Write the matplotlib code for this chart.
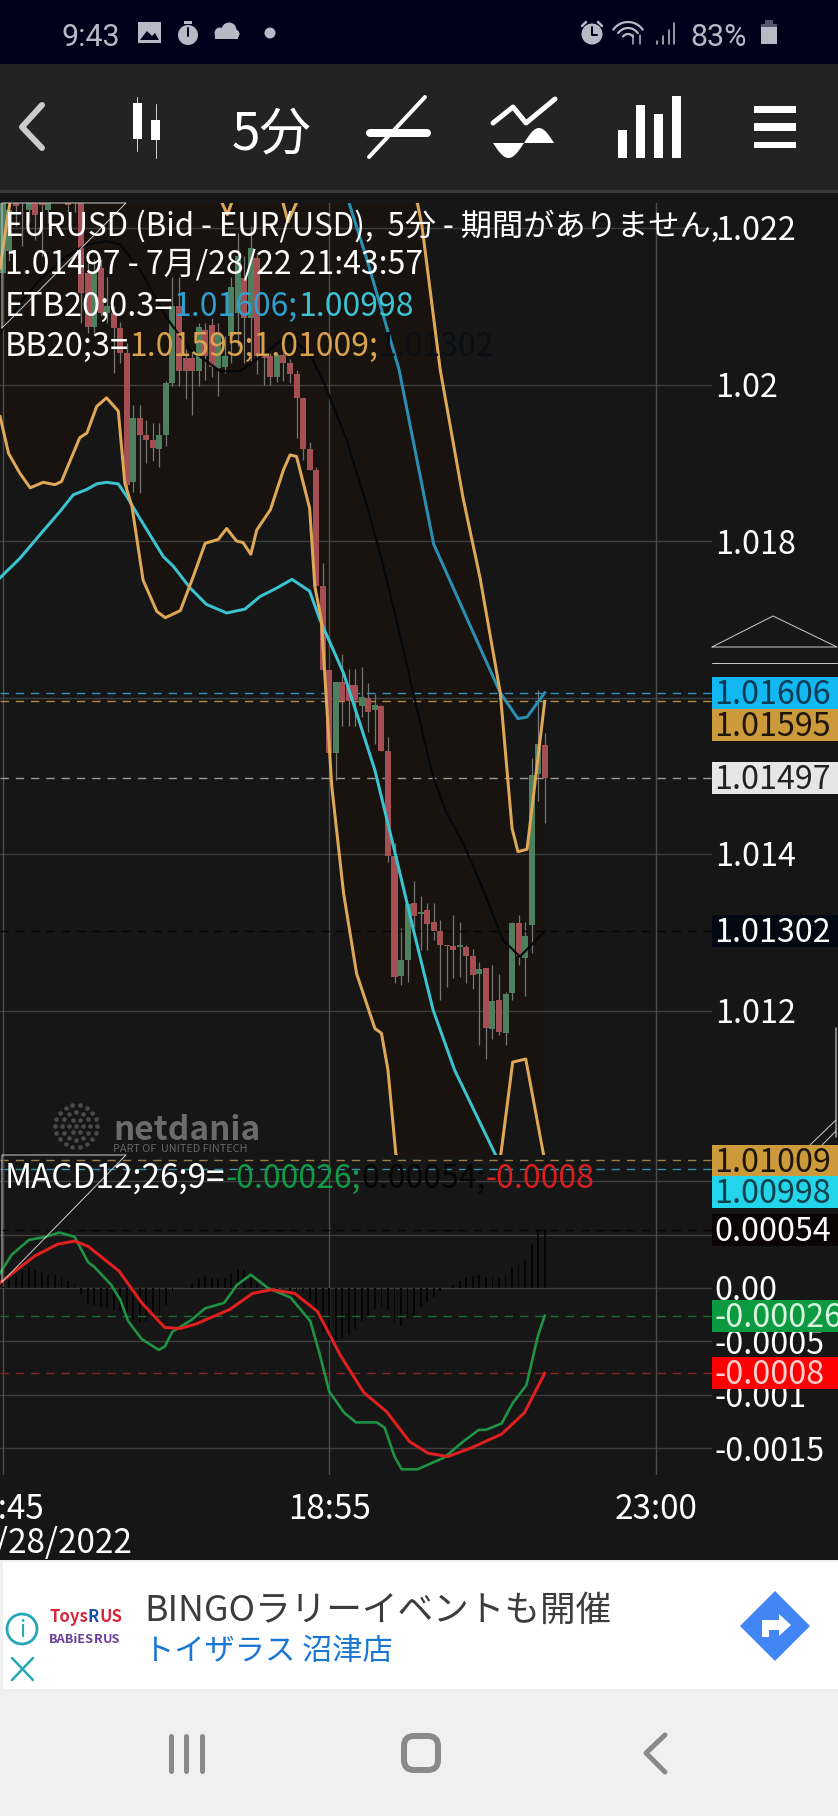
import numpy as np
import matplotlib
matplotlib.use('Agg')
import matplotlib.pyplot as plt
from matplotlib.patches import Rectangle, Polygon, Circle, FancyBboxPatch

plt.rcParams['font.family'] = ['Noto Sans CJK JP', 'DejaVu Sans']

W, H = 838, 1816
BG = '#161616'

################################################### chart data

opens = [1.02142, 1.02170, 1.02232, 1.0224, 1.02223, 1.02232, 1.02238, 1.02223, 1.0226, 1.0229,
         1.02236, 1.0225, 1.02232, 1.02142, 1.02074, 1.02149, 1.02091, 1.02091, 1.02072, 1.02040,
         1.01876, 1.01957, 1.01936, 1.01929, 1.01918, 1.01936, 1.02002, 1.02100, 1.02034, 1.02034,
         1.02017, 1.02070, 1.02076, 1.02021, 1.02023, 1.02062, 1.02091, 1.02136, 1.02085, 1.02162,
         1.02036, 1.02036, 1.02010, 1.02038, 1.02027, 1.02013, 1.01983, 1.01917, 1.01891, 1.01742,
         1.01635, 1.01529, 1.01620, 1.01616, 1.01616, 1.01589, 1.01600, 1.01584, 1.01589, 1.01532,
         1.01397, 1.01244, 1.01264, 1.01337, 1.01323, 1.01328, 1.01313, 1.01301, 1.01284, 1.01283,
         1.01281, 1.01281, 1.01270, 1.01247, 1.01254, 1.01176, 1.01213, 1.01171, 1.01222, 1.01312,
         1.01267, 1.01309, 1.01502, 1.01539]
closes = [1.02236, 1.02223, 1.02228, 1.0226, 1.02236, 1.02217, 1.02230, 1.02232, 1.0228, 1.0227,
          1.02230, 1.02236, 1.02117, 1.02074, 1.02142, 1.02091, 1.02100, 1.02072, 1.02040, 1.01872,
          1.01957, 1.01936, 1.01929, 1.01919, 1.01936, 1.02002, 1.02100, 1.02017, 1.02017, 1.02017,
          1.02074, 1.02036, 1.02023, 1.02066, 1.02036, 1.02125, 1.02164, 1.02085, 1.02174, 1.02037,
          1.02034, 1.02010, 1.02038, 1.02027, 1.02013, 1.01983, 1.01917, 1.01891, 1.01742, 1.01635,
          1.01529, 1.01620, 1.01595, 1.01595, 1.01597, 1.01600, 1.01581, 1.01590, 1.01532, 1.01397,
          1.01243, 1.01264, 1.01336, 1.01321, 1.01326, 1.01310, 1.01301, 1.01284, 1.01282, 1.01277,
          1.01284, 1.01270, 1.01245, 1.01253, 1.01178, 1.01212, 1.01172, 1.01221, 1.01312, 1.01270,
          1.01295, 1.01501, 1.01541, 1.01497]
highs = [1.0225, 1.02236, 1.0224, 1.0227, 1.0225, 1.0225, 1.0225, 1.0225, 1.0229, 1.0231,
         1.0225, 1.0227, 1.0225, 1.02160, 1.02160, 1.02160, 1.02138, 1.02100, 1.02080, 1.02053,
         1.01974, 1.01974, 1.01955, 1.01951, 1.01951, 1.02004, 1.02138, 1.02138, 1.02045, 1.02045,
         1.02079, 1.02079, 1.02085, 1.02079, 1.02062, 1.02138, 1.02194, 1.02164, 1.02202, 1.02168,
         1.02040, 1.02040, 1.02040, 1.02040, 1.02032, 1.02018, 1.01983, 1.01927, 1.01895, 1.01772,
         1.01635, 1.01620, 1.01656, 1.01636, 1.01636, 1.01639, 1.01618, 1.01604, 1.01590, 1.01550,
         1.01414, 1.01305, 1.01337, 1.01365, 1.01346, 1.01338, 1.01337, 1.01316, 1.01284, 1.01322,
         1.01313, 1.01284, 1.01279, 1.01262, 1.01254, 1.01258, 1.01247, 1.01224, 1.01313, 1.01322,
         1.01313, 1.01523, 1.01609, 1.01555]
lows = [1.02142, 1.02158, 1.02202, 1.02177, 1.02206, 1.02185, 1.02164, 1.02206, 1.0224, 1.0225,
        1.02220, 1.02220, 1.02079, 1.02066, 1.02066, 1.02087, 1.02079, 1.02015, 1.02027, 1.01863,
        1.01863, 1.01861, 1.01900, 1.01902, 1.01895, 1.01921, 1.01998, 1.01998, 1.01981, 1.01961,
        1.01998, 1.02006, 1.02010, 1.01985, 1.02015, 1.02027, 1.02049, 1.02027, 1.02027, 1.02013,
        1.02000, 1.02000, 1.02003, 1.02004, 1.02002, 1.01932, 1.01904, 1.01891, 1.01742, 1.01635,
        1.01529, 1.01495, 1.01563, 1.01563, 1.01563, 1.01575, 1.01556, 1.01541, 1.01532, 1.01390,
        1.01235, 1.01233, 1.01237, 1.01307, 1.01277, 1.01277, 1.01290, 1.01213, 1.01230, 1.01242,
        1.01243, 1.01235, 1.01228, 1.01156, 1.01138, 1.01164, 1.01169, 1.01156, 1.01213, 1.01258,
        1.01218, 1.01273, 1.01468, 1.01439]

etb_low_x = [-0.4, 2.65, 5.7, 8.8, 10.8, 12.9, 14.4, 15.9, 17.7, 19, 21, 24.6, 26.1, 28.7, 31.2, 34.3,
             37.1, 39.4, 42, 44.3, 47, 48.6, 52.2, 54.7, 57, 60.1, 62.9, 65.9, 69.2, 75.5, 78, 81, 83]
etb_low_y = [1.01753, 1.01778, 1.01808, 1.01838, 1.01859, 1.01866, 1.01873, 1.01875, 1.01873, 1.01857,
             1.01829, 1.01780, 1.01768, 1.01740, 1.01719, 1.01708, 1.01713, 1.01729, 1.01740, 1.01751,
             1.01736, 1.01699, 1.01631, 1.01567, 1.01507, 1.01401, 1.01303, 1.01201, 1.01124, 1.01015,
             1.0098, 1.0097, 1.00998]
etb_up_x = [49, 52.4, 55.8, 60.7, 66, 71.2, 76.2, 78.9, 80.3, 83]
etb_up_y = [1.0245, 1.02249, 1.02159, 1.02019, 1.01796, 1.01699, 1.01606, 1.01573, 1.01575, 1.01606]

bb_up_x = [-0.4, 0.8, 1.7, 4, 15, 25, 31.7, 34.4, 36.3, 39.7, 42, 43.7, 45.5, 46.6, 53, 63.5, 64.2,
           67, 70.5, 73.1, 76.2, 78, 78.9, 80.3, 83]
bb_up_y = [1.02149, 1.02217, 1.02261, 1.0235, 1.0238, 1.0234, 1.02268, 1.02217, 1.02261, 1.0228,
           1.02261, 1.02208, 1.02242, 1.02268, 1.0232, 1.02232, 1.02203, 1.02019, 1.01855, 1.01753,
           1.01606, 1.01433, 1.01403, 1.01406, 1.01595]
bb_low_x = [-0.4, 0.9, 2.6, 4.2, 6.2, 8, 9, 11.8, 12.9, 14.4, 15.9, 17.7, 18.7, 19.8, 21.5, 23.6, 24.9,
            27.2, 29.2, 31, 33, 34.3, 35.8, 36.8, 38, 38.9, 41, 43, 44, 45, 47, 47.8, 48.8, 50.4, 52.2,
            54.2, 57, 58, 59, 60.2, 66, 72, 76.3, 78.1, 80.1, 82.8, 83]
bb_low_y = [1.01959, 1.01912, 1.01887, 1.01868, 1.01875, 1.01872, 1.01876, 1.01932, 1.01938, 1.01972,
            1.01983, 1.01966, 1.01874, 1.01844, 1.0175, 1.01710, 1.01702, 1.01711, 1.01755, 1.01797,
            1.01802, 1.01816, 1.01800, 1.01798, 1.01783, 1.01814, 1.01840, 1.01891, 1.01910, 1.01908,
            1.01842, 1.01742, 1.01699, 1.01486, 1.01350, 1.01247, 1.01177, 1.01171, 1.01124, 1.01017,
            1.0090, 1.0092, 1.01017, 1.01134, 1.01138, 1.01017, 1.01009]
bb_mid_x = [-0.4, 2.65, 5.7, 9.8, 12.9, 15.9, 18, 21, 25.1, 28.7, 33.3, 36.3, 39.9, 43.5, 47, 49.4,
            52.7, 55.8, 58.3, 60.3, 62.9, 65.9, 68, 70.5, 73.6, 76.6, 79.2, 83]
bb_mid_y = [1.02066, 1.02104, 1.02134, 1.02164, 1.02179, 1.02183, 1.02179, 1.02147, 1.02085, 1.02045,
            1.02017, 1.02017, 1.02038, 1.02062, 1.02040, 1.01998, 1.01929, 1.01844, 1.01768, 1.01699,
            1.01605, 1.01499, 1.01452, 1.01414, 1.01354, 1.01290, 1.01269, 1.01301]

# macd values in units of 1e-5
macd_x = [-0.4, 1.35, 4, 6.6, 8.7, 11, 13.1, 14, 16.6, 18, 19.2, 21.3, 23.9, 24.8, 26, 28.9, 31, 33.9,
          35.9, 38, 40.6, 44.1, 47.1, 48.5, 50, 52.3, 54.1, 57.3, 58.5, 60, 61.1, 63.5, 67.6, 70.5,
          72.9, 74, 76.4, 78.1, 80.2, 82, 83]
macd_y = [14, 31, 45, 48, 52, 48, 24, 20, 3, -11, -31, -48, -58, -55, -41, -30, -19, -14,
          3, 12.5, 0, -9, -31, -61, -97, -117, -126, -126, -131, -158, -170, -170, -159, -144,
          -133, -133, -127, -108, -91, -44, -26]
signal_x = [-0.4, 4.9, 8.4, 11, 13.1, 17.8, 21.3, 24.8, 27.1, 29.5, 34.8, 38.3, 41.2, 44.7, 48.2, 51.8,
            55.3, 58.8, 62.3, 65.2, 68.2, 71.7, 76.4, 79.9, 83]
signal_y = [5, 30, 41, 44, 39, 16, -14, -37, -38, -34, -20, -5, -1.6, -5, -22, -64,
            -98, -116, -144, -155, -158, -150, -137, -117, -80]
hist = [1, 7.5, 12, 17, 20, 17, 15, 12, 12, 10, 7, 4, -6, -15, -16, -18, -19, -21, -22, -32, -30,
        -33, -31, -28, -25, -16, -4, 0, 2, 4, 8, 11, 9, 8, 9, 14, 18, 17, 12, 4, 1, 0, -2, -1, -3, -3,
        -5, -11, -21, -41, -49, -49, -47, -44, -38, -31, -27, -20, -18, -21, -33, -36, -29, -26, -18,
        -13, -8, -3, 0, 3, 7, 10, 11, 12, 10, 11, 9, 12, 20, 23, 26, 41, 53, 54]

price_ticks = [1.012, 1.014, 1.018, 1.02, 1.022]
price_tick_labels = ['1.012', '1.014', '1.018', '1.02', '1.022']
price_grid = [1.012, 1.014, 1.016, 1.018, 1.02, 1.022]
macd_ticks = [-0.0015, -0.001, -0.0005, 0.0, 0.0005, 0.001]
macd_tick_labels = ['-0.0015', '-0.001', '-0.0005', '0.00', '', '']
time_ticks = [0, 50, 100]
time_labels = ['14:45', '18:55', '23:00']

###################################################  figure and panels

fig = plt.figure(figsize=(W / 100, H / 100), dpi=100, facecolor=BG)

def panel(top, bottom, right=712):
    a = fig.add_axes([0, 1 - bottom / H, right / W, (bottom - top) / H], facecolor='none')
    for s in a.spines.values():
        s.set_visible(False)
    return a

# 1 bar = 6.53 px, first grid line at 2.7 px
XMIN, XMAX = -2.7 / 6.53, (712 - 2.7) / 6.53
LABEL_SIZE = 23.2

ax = panel(203, 1155)
ax.set_xlim(XMIN, XMAX)
ax.set_ylim(1.014 - 301 / 78250, 1.014 + 651 / 78250)
ax.set_xticks([])
ax.yaxis.tick_right()
ax.set_yticks(price_ticks, price_tick_labels)
ax.tick_params(axis='y', length=0, pad=2, labelsize=LABEL_SIZE, labelcolor='white')

GRID = '#3e3e3e'
for v in price_grid:
    ax.axhline(v, color=GRID, lw=1.0, zorder=1)
for t in time_ticks:
    ax.axvline(t, color='#4c4c4c', lw=1.0, zorder=1)

# band fill, both edges joined into one outline
ax.fill(list(bb_up_x) + list(bb_low_x)[::-1], list(bb_up_y) + list(bb_low_y)[::-1],
        color='#18130f', lw=0, zorder=0.5)

# watermark
for r, n in zip([0, 7, 14, 21], [1, 6, 12, 18]):
    for k in range(n):
        a_ = 2 * np.pi * k / n
        ax.scatter(76 / 6.53 + r * np.cos(a_) / 6.53 - 0.4,
                   1.014 + (854 - 1126 - r * np.sin(a_)) / 78250,
                   s=11, color='#4a4a4a', lw=0, zorder=1.5)
ax.text(113 / 6.53 - 0.4, 1.014 + (854 - 1140) / 78250, 'netdania', fontsize=24, color='#6b6b6b',
        va='baseline', weight='bold', zorder=1.5)
ax.text(113 / 6.53 - 0.4, 1.014 + (854 - 1152) / 78250, 'PART OF  UNITED FINTECH', fontsize=7.8,
        color='#666666', va='baseline', zorder=1.5)

# candles
bars = np.arange(len(opens))
op, cl = np.array(opens), np.array(closes)
up = cl >= op
ax.vlines(bars, lows, highs, color='#757575', lw=0.9, zorder=2)
ax.bar(bars, np.abs(cl - op), bottom=np.minimum(op, cl), width=0.92,
       color=np.where(up, '#4e8060', '#a44f54'), lw=0, zorder=3)

LW = 0.72
ax.plot(etb_up_x, etb_up_y, color='#2b8fb4', lw=3 * LW, zorder=4)
ax.plot(etb_low_x, etb_low_y, color='#3cc3d2', lw=3 * LW, zorder=4)
ax.plot(bb_up_x, bb_up_y, color='#dfa857', lw=3 * LW, zorder=4)
ax.plot(bb_low_x, bb_low_y, color='#dfa857', lw=3 * LW, zorder=4)
ax.plot(bb_mid_x, bb_mid_y, color='#04070c', lw=2.2 * LW, zorder=4)

# last value lines, the low ones run a bit below the panel
for v, c in [(1.01606, '#2f93c0'), (1.01595, '#b08a45'), (1.01497, '#9a9a9a'),
             (1.01302, '#050505'), (1.01009, '#9c7f45'), (1.00998, '#2f93a8')]:
    ax.plot([XMIN, XMAX], [v, v], color=c, lw=1.0, dashes=(6, 5), zorder=2.5, clip_on=False)

m = panel(1155, 1475)
m.set_xlim(XMIN, XMAX)
m.set_ylim(-187 / 106667, 133 / 106667)
m.yaxis.tick_right()
m.set_yticks(macd_ticks, macd_tick_labels)
m.tick_params(axis='y', length=0, pad=2, labelsize=LABEL_SIZE, labelcolor='white')
m.set_xticks(time_ticks, time_labels)
m.tick_params(axis='x', length=0, pad=12, labelsize=24, labelcolor='white')
for v in macd_ticks:
    m.axhline(v, color=GRID, lw=1.0, zorder=1)
for t in time_ticks:
    m.axvline(t, color='#4c4c4c', lw=1.0, zorder=1)
m.bar(bars, np.array(hist) * 1e-5, width=0.28, color='#050505', lw=0, zorder=2)
for v, c in [(0.00054, '#050505'), (-0.00026, '#1b6b38'), (-0.0008, '#8a2222')]:
    m.axhline(v, color=c, lw=1.0, dashes=(6, 5), zorder=2)
m.plot(macd_x, np.array(macd_y) * 1e-5, color='#1f9444', lw=2.6 * LW, zorder=3)
m.plot(signal_x, np.array(signal_y) * 1e-5, color='#e01f1f', lw=3 * LW, zorder=4)

###################################################  overlay in screen pixels

ui = fig.add_axes([0, 0, 1, 1], facecolor='none')
ui.set_xlim(0, W)
ui.set_ylim(H, 0)
ui.axis('off')

def rect(x0, y0, x1, y1, c, z=1):
    ui.add_patch(Rectangle((x0, y0), x1 - x0, y1 - y0, color=c, lw=0, zorder=z))

def line(xs, ys, c, w=1.0, z=2):
    ui.plot(xs, ys, color=c, lw=w * LW, solid_capstyle='round', solid_joinstyle='round', zorder=z)

def segments(x, y, parts, size=22.5, **kw):
    """ writes colored pieces one after the other on a baseline, gives back the end """
    rend = fig.canvas.get_renderer()
    for s, c in parts:
        t = ui.text(x, y, s, color=c, fontsize=size, va='baseline', ha='left', zorder=6, **kw)
        x += t.get_window_extent(rend).width
    return x

# header lines
segments(5, 235, [('EURUSD (Bid - EUR/USD),  5分 - 期間がありません,', 'white')])
segments(5, 274, [('1.01497 - 7月/28/22 21:43:57', 'white')], size=23)
end = segments(5, 316, [('ETB20;0.3=', 'white')], size=23.4)
segments(end, 316, [('1.01606;', '#2f9fd0'), ('1.00998', '#3cc3d2')], size=23)
end = segments(5, 356, [('BB20;3=', 'white')], size=23.4)
segments(end, 356, [('1.01595;1.01009;', '#d9a24f'), ('1.01302', '#0b0f14')], size=23)
end = segments(5, 1188, [('MACD12;26;9=', 'white')], size=24)
segments(end, 1188, [('-0.00026;', '#129a45'), ('0.00054;', '#050505'), ('-0.0008', '#d8201f')], size=23)

# thin triangles left by the drawing tool
for top, bot in [(203, 328), (1155, 1282)]:
    line([2, 2, 126, 2], [bot, top, top, bot], '#c8c8c8', 1.0)
line([712, 773, 837, 712], [647, 616, 647, 647], '#c8c8c8', 1.0)
line([712, 837], [663, 663], '#c8c8c8', 1.0)
line([836, 836], [1028, 1137], '#a8a8a8', 1.5)
line([810, 836], [1145, 1120], '#c8c8c8', 1.0)
line([822, 836], [1145, 1131], '#c8c8c8', 1.0)

# value boxes on the right
boxes = [(693, '1.01606', '#12b8f2', '#0c3b52'), (725, '1.01595', '#cc9a3a', '#1e1608'),
         (778, '1.01497', '#e6e6e6', '#222222'), (931, '1.01302', '#020912', 'white'),
         (1161, '1.01009', '#cc9a3a', '#1e1608'), (1192, '1.00998', '#22d5ea', '#11404a'),
         (1230, '0.00054', '#0a0404', 'white'), (1316, '-0.00026', '#0b9a40', '#d9f5e0'),
         (1373, '-0.0008', '#ff0000', '#ffd0d0')]
for yc, s, bg, fg in boxes:
    rect(712, yc - 16, W, yc + 16, bg, 3)
    ui.text(714, yc + 11, s, color=fg, fontsize=LABEL_SIZE, va='baseline', zorder=4)

ui.text(132, 1553, '07/28/2022', color='white', fontsize=24, ha='right', va='baseline')

# status bar
STAT = '#b9b9c6'
rect(0, 0, W, 64, '#00001a')
ui.text(91, 46, '9:43', color=STAT, fontsize=22, ha='center', va='baseline', family='Roboto')
rect(138, 22, 161, 43, STAT)
ui.add_patch(Polygon([[140, 40], [147, 31], [152, 36], [155, 33], [159, 40]], color='#00001a', lw=0, zorder=2))
ui.add_patch(Circle((188, 35), 10, color=STAT, lw=0, zorder=2))
rect(184, 21, 192, 24, STAT)
line([188, 188], [28, 36], '#00001a', 2, 3)
ui.add_patch(Circle((220, 33), 5.5, color=STAT, lw=0, zorder=2))
ui.add_patch(Circle((229, 30), 7.5, color=STAT, lw=0, zorder=2))
ui.add_patch(Circle((235, 34), 4.5, color=STAT, lw=0, zorder=2))
rect(215, 33, 238, 39, STAT)
ui.add_patch(Circle((270, 33), 5.5, color=STAT, lw=0, zorder=2))
ui.add_patch(Circle((592, 34), 10.5, color=STAT, lw=0, zorder=2))
line([592, 592, 597], [27, 35, 35], '#00001a', 2, 3)
line([582, 586], [26, 22], STAT, 2.5)
line([602, 598], [26, 22], STAT, 2.5)
for r in [6, 12, 18]:
    a_ = np.linspace(np.radians(215), np.radians(325), 20)
    line(628 + r * np.cos(a_), 40 + r * np.sin(a_), STAT, 2.2)
line([633, 633], [35, 44], STAT, 1.5)
line([640, 640], [35, 44], STAT, 1.5)
for xs, top_ in zip([657, 663, 669, 674], [41, 36, 30, 23]):
    line([xs, xs], [top_, 44], STAT, 1.6)
ui.text(719, 46, '83%', color=STAT, fontsize=22, ha='center', va='baseline', family='Roboto')
rect(761, 27, 777, 44, STAT)
rect(761, 24, 777, 27, '#55556a')
rect(765, 20, 773, 24, '#55556a')

# toolbar
rect(0, 64, W, 190, '#232323')
rect(0, 190, W, 193, '#3a3a3a')
line([42, 22, 42], [105, 127, 148], '#cccccc', 6)
line([137, 137], [97, 151], '#d0d0d0', 1)
rect(133, 103, 142, 139, 'white', 3)
line([155.5, 155.5], [104, 158], '#d0d0d0', 1)
rect(151, 120, 160, 140, 'white', 3)
ui.text(272, 149, '5分', color='white', fontsize=37, ha='center', va='baseline')
line([425, 369], [97, 157], 'white', 4)
line([370, 427], [133, 133], 'white', 8)
line([493, 513, 526, 555], [123, 107, 123, 99], 'white', 5)
th = np.linspace(0, 1, 30)
ui.fill(493 + 31 * th, 143 + 15 * np.sin(np.pi * th), 'white', lw=0)
ui.fill(524 + 30 * th, 143 - 15 * np.sin(np.pi * th), 'white', lw=0)
for x0, x1, t in [(618, 627, 130), (636, 645, 105), (654, 663, 114), (672, 681, 96)]:
    rect(x0, t, x1, 158, 'white', 3)
for y0, y1 in [(106, 113), (123, 131), (142, 148)]:
    rect(754, y0, 796, y1, 'white', 3)

# ad strip
rect(0, 1560, W, 1816, '#f0f0f0')
rect(3, 1562, W, 1689, 'white', 1.5)
ui.text(144, 1621, 'BINGOラリーイベントも開催', color='#3c3c3c', fontsize=25.7, va='baseline', zorder=3)
ui.text(144, 1660, 'トイザラス 沼津店', color='#1976d2', fontsize=21.8, va='baseline', zorder=3)
ui.add_patch(Circle((22, 1629), 15, fill=False, ec='#26a7b8', lw=2, zorder=3))
ui.text(22, 1637, 'i', color='#26a7b8', fontsize=16, ha='center', va='baseline', zorder=3)
line([12, 33], [1658, 1680], '#26a7b8', 2.5, 3)
line([33, 12], [1658, 1680], '#26a7b8', 2.5, 3)
segments(49, 1622, [('Toys', '#d6283d'), ('R', '#1f4fa8'), ('US', '#d6283d')], size=12, weight='bold')
segments(49, 1643, [('BABiES', '#6b3f98'), ('R', '#6b3f98'), ('US', '#6b3f98')], size=9.2, weight='bold')
ui.add_patch(Polygon([[775, 1591], [810, 1626], [775, 1661], [740, 1626]], color='#4285f4', lw=0, zorder=3))
ui.add_patch(Polygon([[762, 1637], [762, 1620], [779, 1620], [779, 1614], [791, 1625], [779, 1636],
                      [779, 1630], [769, 1630], [769, 1637]], color='white', lw=0, zorder=4))

# navigation bar
for x in [171, 186, 202]:
    line([x, x], [1736, 1771], '#8a8a8a', 5)
ui.add_patch(FancyBboxPatch((404, 1736), 34, 34, boxstyle='round,pad=0,rounding_size=10', fill=False,
                            ec='#8a8a8a', lw=6 * LW, zorder=2))
line([665, 646, 665], [1735, 1753, 1772], '#8a8a8a', 5)

fig.savefig('out.png', dpi=100, facecolor=BG)
